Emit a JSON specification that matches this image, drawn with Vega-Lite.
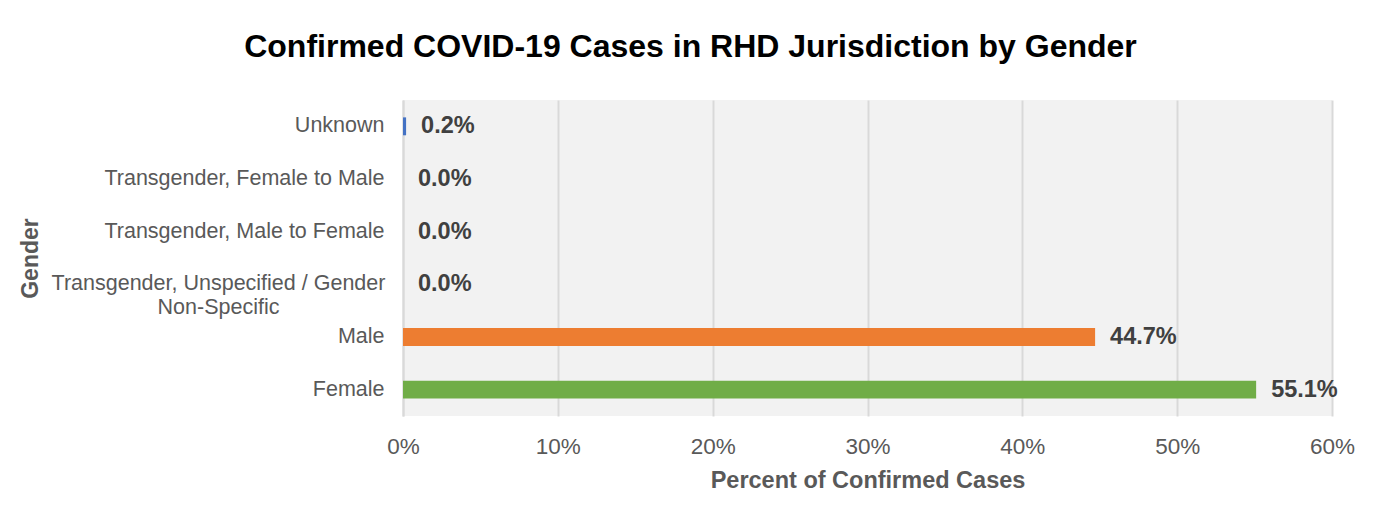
{
  "$schema": "https://vega.github.io/schema/vega-lite/v6.json",
  "width": 929,
  "height": 316,
  "autosize": "none",
  "padding": {"left": 403, "top": 100, "right": 42, "bottom": 96},
  "background": "white",
  "title": {
    "text": "Confirmed COVID-19 Cases in RHD Jurisdiction by Gender",
    "font": "Liberation Sans",
    "fontSize": 32,
    "fontWeight": "bold",
    "color": "#000000",
    "anchor": "middle",
    "dx": -177,
    "offset": 36
  },
  "config": {
    "font": "Liberation Sans",
    "view": {"fill": "#f2f2f2", "stroke": null}
  },
  "data": {
    "values": [
      {"gender": "Unknown", "pct": 0.2, "label": "0.2%"},
      {"gender": "Transgender, Female to Male", "pct": 0.0, "label": "0.0%"},
      {"gender": "Transgender, Male to Female", "pct": 0.0, "label": "0.0%"},
      {"gender": "Transgender, Unspecified / Gender Non-Specific", "pct": 0.0, "label": "0.0%"},
      {"gender": "Male", "pct": 44.7, "label": "44.7%"},
      {"gender": "Female", "pct": 55.1, "label": "55.1%"}
    ]
  },
  "encoding": {
    "y": {
      "field": "gender",
      "type": "nominal",
      "sort": ["Unknown", "Transgender, Female to Male", "Transgender, Male to Female", "Transgender, Unspecified / Gender Non-Specific", "Male", "Female"],
      "scale": {"paddingInner": 0.66, "paddingOuter": 0.33},
      "axis": {
        "title": "Gender",
        "titleFont": "Liberation Sans",
        "titleFontSize": 23,
        "titleFontWeight": "bold",
        "titleColor": "#595959",
        "titleX": -373,
        "titleY": 158,
        "titleAngle": -90,
        "titleAlign": "center",
        "titleBaseline": "middle",
        "labelFont": "Liberation Sans",
        "labelFontSize": 21.5,
        "labelColor": "#595959",
        "labelPadding": {"condition": {"test": "indexof(datum.value, 'Unspecified') >= 0", "value": 185}, "value": 19},
        "labelAlign": {"condition": {"test": "indexof(datum.value, 'Unspecified') >= 0", "value": "center"}, "value": "right"},
        "labelExpr": "indexof(datum.value, 'Unspecified') >= 0 ? ['Transgender, Unspecified / Gender', 'Non-Specific'] : datum.value",
        "labelLineHeight": 24,
        "labelLimit": 400,
        "ticks": false,
        "domain": true,
        "domainColor": "#d9d9d9",
        "domainWidth": 2
      }
    },
    "x": {
      "field": "pct",
      "type": "quantitative",
      "scale": {"domain": [0, 60]},
      "axis": {
        "title": "Percent of Confirmed Cases",
        "titleFont": "Liberation Sans",
        "titleFontSize": 23.5,
        "titleFontWeight": "bold",
        "titleColor": "#595959",
        "titlePadding": 11,
        "values": [0, 10, 20, 30, 40, 50, 60],
        "labelExpr": "datum.value + '%'",
        "labelFlush": false,
        "labelFont": "Liberation Sans",
        "labelFontSize": 22.5,
        "labelColor": "#595959",
        "labelPadding": 19,
        "ticks": false,
        "domain": false,
        "grid": true,
        "gridColor": "#d9d9d9",
        "gridWidth": 2
      }
    }
  },
  "layer": [
    {
      "mark": {"type": "bar"},
      "encoding": {
        "color": {
          "field": "gender",
          "type": "nominal",
          "scale": {
            "domain": ["Unknown", "Transgender, Female to Male", "Transgender, Male to Female", "Transgender, Unspecified / Gender Non-Specific", "Male", "Female"],
            "range": ["#4472C4", "#A5A5A5", "#FFC000", "#5B9BD5", "#ED7D31", "#70AD47"]
          },
          "legend": null
        }
      }
    },
    {
      "mark": {"type": "text", "align": "left", "baseline": "middle", "dx": 15, "fontSize": 23.5, "fontWeight": "bold", "color": "#404040", "font": "Liberation Sans"},
      "encoding": {
        "text": {"field": "label"}
      }
    }
  ]
}
